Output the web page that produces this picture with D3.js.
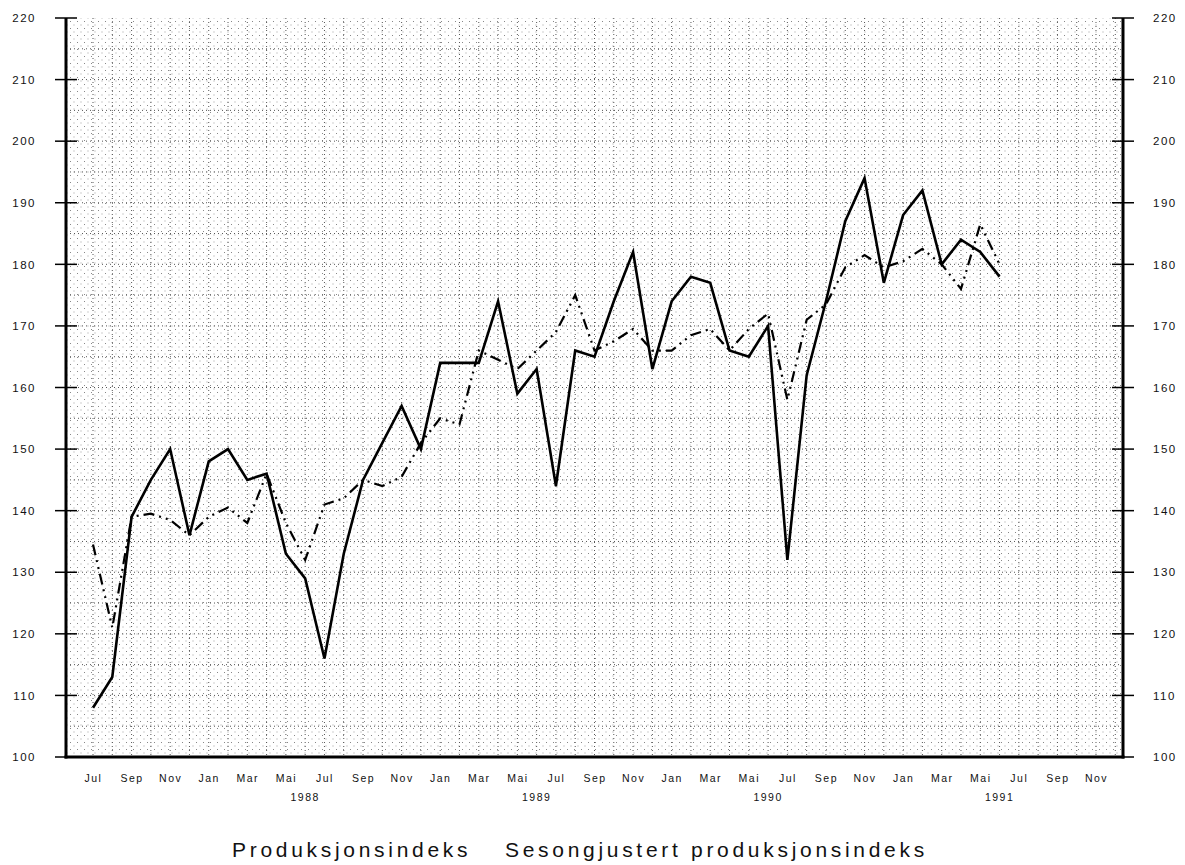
<!DOCTYPE html>
<html>
<head>
<meta charset="utf-8">
<script src="https://cdnjs.cloudflare.com/ajax/libs/d3/7.8.5/d3.min.js"></script>
<style>
  body { margin: 0; background: #fff; }
  svg { font-family: "Liberation Sans", Arial, sans-serif; }
</style>
</head>
<body>
<script>
const width = 1185;
const height = 865;

// month index 0 = Jul 1987
const monthLabels = ["Jul", "Sep", "Nov", "Jan", "Mar", "Mai", "Jul", "Sep", "Nov",
  "Jan", "Mar", "Mai", "Jul", "Sep", "Nov", "Jan", "Mar", "Mai", "Jul", "Sep", "Nov",
  "Jan", "Mar", "Mai", "Jul", "Sep", "Nov"];
const years = ["1988", "1989", "1990", "1991"];
const yTicks = [100, 110, 120, 130, 140, 150, 160, 170, 180, 190, 200, 210, 220];

const produksjon = [108, 113, 139, 145, 150, 136,
  148, 150, 145, 146, 133, 129, 116, 133, 145, 151, 157, 150,
  164, 164, 164, 174, 159, 163, 144, 166, 165, 174, 182, 163,
  174, 178, 177, 166, 165, 170, 132, 162, 174, 187, 194, 177,
  188, 192, 180, 184, 182, 178];

const sesong = [134.5, 121, 139, 139.5, 138.5, 136,
  139, 140.5, 138, 146, 138, 132, 141, 142, 145, 144, 145.5, 151,
  155, 154, 166, 164.5, 163, 166, 169, 175, 166, 167.5, 169.5, 166,
  166, 168.5, 169.5, 166, 169.5, 172, 158, 171, 173.5, 179.5, 181.5, 179.5,
  180.5, 182.5, 180, 176, 186.5, 180];

const mLeft = 66, mRight = 1123, mTop = 18, mBottom = 757;

const x = d3.scaleLinear().domain([-1.4, 53.4]).range([mLeft, mRight]);
const y = d3.scaleLinear().domain([100, 220]).range([mBottom, mTop]);

const svg = d3.select("body").append("svg")
  .attr("width", width)
  .attr("height", height);

// stipple background
const defs = svg.append("defs");
const pat = defs.append("pattern")
  .attr("id", "stipple")
  .attr("patternUnits", "userSpaceOnUse")
  .attr("width", 7).attr("height", 7);
pat.append("rect").attr("x", 0).attr("y", 0).attr("width", 1).attr("height", 1).attr("fill", "#888");
pat.append("rect").attr("x", 3.5).attr("y", 3.5).attr("width", 1).attr("height", 1).attr("fill", "#a0a0a0");

svg.append("rect")
  .attr("x", mLeft).attr("y", mTop)
  .attr("width", mRight - mLeft).attr("height", mBottom - mTop)
  .attr("fill", "url(#stipple)");

// dotted grid
const months = d3.range(0, 54);
svg.append("g").selectAll("line")
  .data(months)
  .enter().append("line")
  .attr("x1", d => x(d)).attr("x2", d => x(d))
  .attr("y1", mTop).attr("y2", mBottom)
  .attr("stroke", "#555").attr("stroke-width", 1)
  .attr("stroke-dasharray", "1,3");

svg.append("g").selectAll("line")
  .data(d3.range(105, 220, 5))
  .enter().append("line")
  .attr("x1", mLeft).attr("x2", mRight)
  .attr("y1", d => y(d)).attr("y2", d => y(d))
  .attr("stroke", "#555").attr("stroke-width", 1)
  .attr("stroke-dasharray", "1,3");

// axes
const yAxisL = d3.axisLeft(y).tickValues(yTicks).tickSize(0).tickPadding(30);
const yAxisR = d3.axisRight(y).tickValues(yTicks).tickSize(0).tickPadding(30);

const gl = svg.append("g").attr("transform", `translate(${mLeft},0)`).call(yAxisL);
const gr = svg.append("g").attr("transform", `translate(${mRight},0)`).call(yAxisR);

[gl, gr].forEach(g => {
  g.select(".domain").remove();
  g.selectAll("text")
    .attr("font-size", 11.5)
    .attr("letter-spacing", 1.5)
    .attr("fill", "#111");
});

[mLeft, mRight].forEach(ax => {
  svg.append("g").selectAll("line")
    .data(yTicks)
    .enter().append("line")
    .attr("x1", ax - 11).attr("x2", ax + 11)
    .attr("y1", d => y(d)).attr("y2", d => y(d))
    .attr("stroke", "#000").attr("stroke-width", 1.5);
  svg.append("line")
    .attr("x1", ax).attr("x2", ax)
    .attr("y1", mTop).attr("y2", mBottom + 1.5)
    .attr("stroke", "#000").attr("stroke-width", 3);
});

svg.append("line")
  .attr("x1", mLeft - 1.5).attr("x2", mRight + 1.5)
  .attr("y1", mBottom).attr("y2", mBottom)
  .attr("stroke", "#000").attr("stroke-width", 3);

// x labels
const xAxis = d3.axisBottom(x)
  .tickValues(d3.range(0, 53, 2))
  .tickFormat((d, i) => monthLabels[i])
  .tickSize(0).tickPadding(18);
const gx = svg.append("g").attr("transform", `translate(0,${mBottom})`).call(xAxis);
gx.select(".domain").remove();
gx.selectAll("text")
  .attr("font-size", 10.5)
  .attr("letter-spacing", 1.5)
  .attr("fill", "#111");

svg.append("g").selectAll("text")
  .data(years)
  .enter().append("text")
  .attr("x", (d, i) => x(11 + i * 12))
  .attr("y", 801)
  .attr("text-anchor", "middle")
  .attr("font-size", 10.5)
  .attr("letter-spacing", 1.5)
  .attr("fill", "#111")
  .text(d => d);

// series
const line = d3.line()
  .x((d, i) => x(i))
  .y(d => y(d));

svg.append("path")
  .datum(sesong)
  .attr("d", line)
  .attr("fill", "none")
  .attr("stroke", "#000")
  .attr("stroke-width", 2.2)
  .attr("stroke-dasharray", "11,5,2,5,2,5");

svg.append("path")
  .datum(produksjon)
  .attr("d", line)
  .attr("fill", "none")
  .attr("stroke", "#000")
  .attr("stroke-width", 2.6)
  .attr("stroke-linejoin", "miter");

// legend
const legend = ["Produksjonsindeks", "Sesongjustert produksjonsindeks"];
const legendX = [232, 505];
svg.append("g").selectAll("text")
  .data(legend)
  .enter().append("text")
  .attr("x", (d, i) => legendX[i])
  .attr("y", 857)
  .attr("font-size", 21)
  .attr("letter-spacing", 3.7)
  .attr("fill", "#111")
  .text(d => d);
</script>
</body>
</html>
